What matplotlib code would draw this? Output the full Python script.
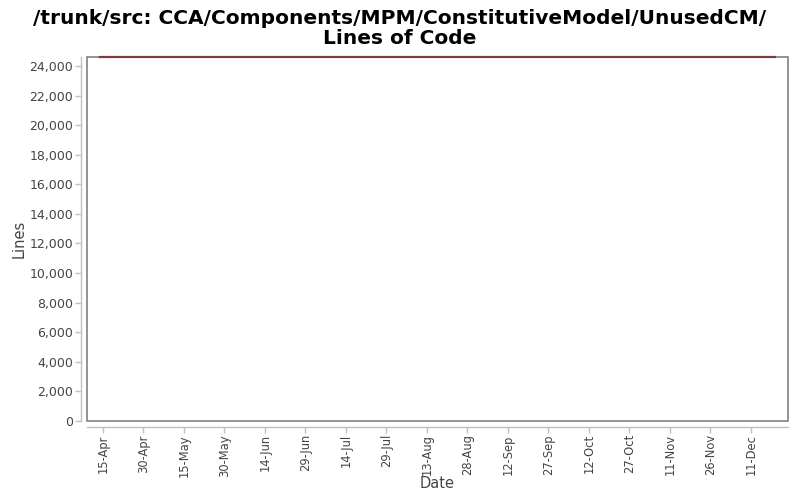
import matplotlib
matplotlib.use("Agg")
import matplotlib.pyplot as plt
import matplotlib.dates as mdates
from matplotlib.patches import Rectangle
from matplotlib.ticker import FuncFormatter, MultipleLocator
import datetime as dt

# Data
dates = ["2007-04-14", "2007-06-01", "2007-08-01", "2007-10-01", "2007-12-20"]
lines = [24600, 24600, 24600, 24600, 24600]
tick_dates = ["2007-04-15", "2007-04-30", "2007-05-15", "2007-05-30", "2007-06-14",
              "2007-06-29", "2007-07-14", "2007-07-29", "2007-08-13", "2007-08-28",
              "2007-09-12", "2007-09-27", "2007-10-12", "2007-10-27", "2007-11-11",
              "2007-11-26", "2007-12-11"]
title = "/trunk/src: CCA/Components/MPM/ConstitutiveModel/UnusedCM/\nLines of Code"

x = [dt.datetime.strptime(d, "%Y-%m-%d") for d in dates]
xt = [dt.datetime.strptime(d, "%Y-%m-%d") for d in tick_dates]

plt.rcParams['font.family'] = ['DejaVu Sans']
fig = plt.figure(figsize=(8, 5), dpi=100)
ax = fig.add_axes([87/800, 1-421/500, (788-87)/800, (421-57)/500])

ax.plot(x, lines, color="#7f3b40", linewidth=1.6, clip_on=False, zorder=3)

ax.set_xlim(dt.datetime(2007, 4, 9, 2), dt.datetime(2007, 12, 24, 18))
ax.set_ylim(0, 24608)

ax.yaxis.set_major_locator(MultipleLocator(2000))
ax.yaxis.set_major_formatter(FuncFormatter(lambda v, p: f"{int(v):,}"))
ax.set_xticks(xt)
ax.xaxis.set_major_formatter(mdates.DateFormatter("%d-%b"))

ax.tick_params(axis='both', colors="#c0c0c0", labelcolor="#444444", labelsize=9,
               length=4, width=1, direction='out', pad=2)
ax.tick_params(axis='x', labelrotation=90, pad=1.5, labelsize=8.3)

for s in ['top', 'right']:
    ax.spines[s].set_visible(False)
for s in ['left', 'bottom']:
    ax.spines[s].set_position(('outward', 4))
    ax.spines[s].set_color("#c0c0c0")
    ax.spines[s].set_linewidth(1)

ax.add_patch(Rectangle((0, 0), 1, 1, transform=ax.transAxes, fill=False,
                       edgecolor="#808080", linewidth=1.2, clip_on=False, zorder=2))

ax.set_xlabel("Date", fontsize=10.5, color="#444444", va='center')
ax.xaxis.set_label_coords(0.5, (421 - 484) / 364)
ax.set_ylabel("Lines", fontsize=10.5, color="#444444", va='center')
ax.yaxis.set_label_coords((19 - 87) / 701, 0.5)

fig.text(0.5, 1-28.5/500, title, ha='center', va='center', fontsize=14.5,
         fontweight='bold', linespacing=1.0)

fig.savefig("out.png", dpi=100)
